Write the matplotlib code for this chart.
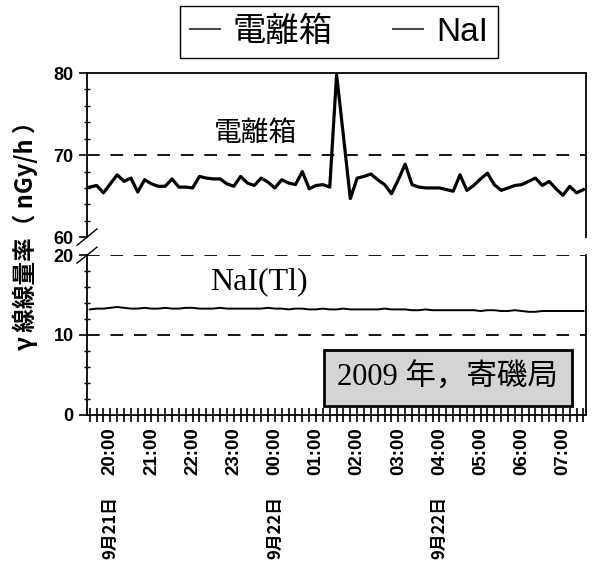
import numpy as np
import pandas as pd
import matplotlib
matplotlib.use("Agg")
import matplotlib.pyplot as plt
import matplotlib.dates as mdates
import matplotlib.transforms as mtransforms
from matplotlib.lines import Line2D

plt.rcParams['font.family'] = ['Liberation Sans', 'Noto Sans CJK JP', 'DejaVu Sans']

# 10-minute readings, 2009-09-21 19:30 .. 09-22 07:30
times = pd.date_range('2009-09-21 19:30', periods=73, freq='10min')

ion_chamber = [66.1, 66.3, 65.4, 66.5, 67.6, 66.8, 67.2, 65.5, 67.0, 66.5,
               66.2, 66.2, 67.1, 66.1, 66.1, 66.0, 67.4, 67.2, 67.1, 67.1,
               66.5, 66.2, 67.4, 66.6, 66.3, 67.2, 66.7, 66.0, 67.0, 66.6,
               66.4, 68.0, 65.9, 66.3, 66.4, 66.1, 79.8, 72.3, 64.7, 67.2,
               67.4, 67.7, 67.0, 66.4, 65.3, 67.0, 68.9, 66.4, 66.1, 66.0,
               66.0, 66.0, 65.8, 65.6, 67.6, 65.7, 66.3, 67.1, 67.8, 66.4,
               65.7, 66.0, 66.3, 66.4, 66.8, 67.2, 66.3, 66.8, 65.9, 65.1,
               66.2, 65.4, 65.8]

nai = [13.2, 13.3, 13.3, 13.4, 13.5, 13.4, 13.3, 13.3, 13.4, 13.3,
       13.3, 13.4, 13.3, 13.3, 13.4, 13.4, 13.3, 13.3, 13.3, 13.4,
       13.3, 13.3, 13.3, 13.3, 13.3, 13.3, 13.4, 13.3, 13.3, 13.2,
       13.3, 13.3, 13.2, 13.2, 13.3, 13.2, 13.2, 13.3, 13.2, 13.2,
       13.2, 13.2, 13.2, 13.3, 13.2, 13.2, 13.2, 13.1, 13.1, 13.2,
       13.1, 13.1, 13.1, 13.1, 13.1, 13.1, 13.1, 13.0, 13.1, 13.1,
       13.0, 13.0, 13.1, 13.0, 12.9, 12.9, 13.0, 13.0, 13.0, 13.0,
       13.0, 13.0, 13.0]

date_ticks = pd.to_datetime(['2009-09-21 20:00', '2009-09-22 00:00', '2009-09-22 04:00'])
date_labels = ['9月21日', '9月22日', '9月22日']

x_start = pd.Timestamp('2009-09-21 19:26')
x_end = pd.Timestamp('2009-09-22 07:34')

fig = plt.figure(figsize=(6, 5.62), dpi=100)
ax1 = fig.add_axes([0.145, 0.578, 0.832, 0.292])
ax2 = fig.add_axes([0.145, 0.262, 0.832, 0.284])

dash = (0, (7, 6))

# upper panel: ionization chamber
ax1.plot(times, ion_chamber, color='black', lw=2.3)
ax1.axhline(70, color='black', lw=1.3, linestyle=dash)
ax1.set_ylim(60, 80)
ax1.set_xlim(x_start, x_end)
ax1.set_yticks([60, 70, 80])
ax1.set_yticks(np.arange(60, 81, 2), minor=True)
ax1.spines['bottom'].set_visible(False)
ax1.tick_params(axis='x', bottom=False, labelbottom=False)
ax1.text(0.337, 72.7, '電離箱', transform=mtransforms.blended_transform_factory(ax1.transAxes, ax1.transData),
         ha='center', va='center', fontsize=20, family=['Noto Sans CJK JP'])

# lower panel: NaI(Tl) scintillator
ax2.plot(times, nai, color='black', lw=1.4)
ax2.axhline(20, color='black', lw=1.3, linestyle=dash)
ax2.axhline(10, color='black', lw=1.3, linestyle=dash)
ax2.set_ylim(0, 20)
ax2.set_xlim(x_start, x_end)
ax2.set_yticks([0, 10, 20])
ax2.set_yticks(np.arange(0, 21, 2), minor=True)
ax2.spines['top'].set_visible(False)
ax2.text(0.345, 16.7, 'NaI(Tl)', transform=mtransforms.blended_transform_factory(ax2.transAxes, ax2.transData),
         ha='center', va='center', fontsize=23, family=['Liberation Serif'])
ax2.text(0.723, 0.23, '2009 年，寄磯局', transform=ax2.transAxes, ha='center', va='center',
         fontsize=22, family=['Liberation Serif', 'Noto Sans CJK JP'],
         bbox=dict(boxstyle='square,pad=0.45', facecolor='#d4d4d4', edgecolor='black', lw=2))

ax2.xaxis.set_major_locator(mdates.HourLocator())
ax2.xaxis.set_minor_locator(mdates.MinuteLocator(byminute=[10, 20, 30, 40, 50]))
ax2.xaxis.set_major_formatter(mdates.DateFormatter('%H:%M'))
ax2.tick_params(axis='x', which='both', direction='inout', length=10, width=1.2, pad=4)
for lbl in ax2.get_xticklabels():
    lbl.set_rotation(90)
    lbl.set_fontsize(13.5)
    lbl.set_fontweight('bold')

date_tf = mtransforms.blended_transform_factory(ax2.transData, ax2.transAxes)
for d, s in zip(date_ticks, date_labels):
    ax2.text(d, -0.51, s, transform=date_tf, rotation=90, ha='center', va='top',
             fontsize=12, fontweight='bold', family=['Noto Sans CJK JP'])

for ax in (ax1, ax2):
    ax.tick_params(axis='y', which='major', direction='out', length=6, width=1.2, labelsize=13)
    ax.tick_params(axis='y', which='minor', direction='inout', length=4, width=1)
    for lbl in ax.get_yticklabels():
        lbl.set_fontweight('bold')
    for sp in ax.spines.values():
        sp.set_linewidth(1.3)

# axis break marks
ax1.plot([-0.02, 0.02], [-0.05, 0.05], transform=ax1.transAxes, color='black', lw=1, clip_on=False)
ax2.plot([-0.02, 0.02], [0.95, 1.05], transform=ax2.transAxes, color='black', lw=1, clip_on=False)

fig.text(0.042, 0.59, 'γ 線線量率（ nGy/h ）', rotation=90, ha='center', va='center',
         fontsize=17, fontweight='bold', family=['Noto Sans CJK JP'])

handles = [Line2D([], [], color='0.3', lw=1.5), Line2D([], [], color='0.3', lw=1.5)]
fig.legend(handles, ['電離箱', 'NaI'], loc='center', bbox_to_anchor=(0.565, 0.943), ncol=2,
           prop={'family': ['Liberation Sans', 'Noto Sans CJK JP'], 'size': 24},
           frameon=True, fancybox=False, edgecolor='black', framealpha=1,
           handlelength=0.9, handletextpad=0.4, columnspacing=1.8, borderpad=0.3)

fig.savefig('out.png', dpi=100)
